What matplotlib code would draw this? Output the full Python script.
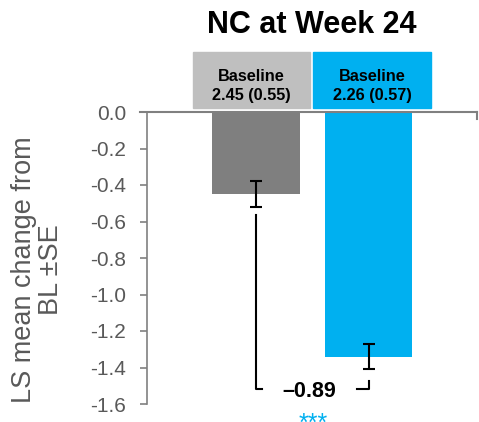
import numpy as np
import matplotlib.pyplot as plt
from matplotlib.patches import Rectangle

plt.rcParams['font.family'] = ['Liberation Sans', 'DejaVu Sans']

groups = ['Placebo', 'Active']
ls_mean = [-0.45, -1.34]
se = [0.07, 0.07]
baseline_text = ['Baseline\n2.45 (0.55)', 'Baseline\n2.26 (0.57)']
bar_colors = ['#7F7F7F', '#00B0F0']
box_colors = ['#BFBFBF', '#00B0F0']
diff_label = '\u20130.89'
yticks = [0.0, -0.2, -0.4, -0.6, -0.8, -1.0, -1.2, -1.4, -1.6]

fig = plt.figure(figsize=(4.79, 4.22), dpi=100)
W, H = 479, 422
ax = fig.add_axes([147 / W, 1 - 404 / H, 330 / W, 292 / H])

x = np.arange(len(groups))
ax.bar(x, ls_mean, width=0.78, color=bar_colors, zorder=2)
ax.errorbar(x, ls_mean, yerr=se, fmt='none', ecolor='black',
            elinewidth=1.5, capsize=4.5, capthick=1.5, zorder=3)

ax.set_xlim(-0.969, 1.964)
ax.set_ylim(-1.6, 0.0)
ax.set_yticks(yticks)
ax.set_yticklabels(['%.1f' % t for t in yticks], fontsize=15, color='#595959')
ax.set_xticks([])
ax.tick_params(axis='y', direction='out', length=5, width=1.2, color='#808080', pad=10)

for s in ['top', 'right', 'bottom']:
    ax.spines[s].set_visible(False)
ax.spines['left'].set_color('#808080')
ax.spines['left'].set_linewidth(1.2)

# zero line with end tick
ax.plot([-1.03, 1.964], [0, 0], color='#808080', lw=1.5, clip_on=False, zorder=4)
ax.plot([1.964, 1.964], [0, -0.04], color='#808080', lw=1.5, clip_on=False, zorder=4)

fig.text(38 / W, 1 - 270 / H, 'LS mean change from\nBL \u00b1SE', rotation=90,
         ha='center', va='center', fontsize=19.5, color='#595959', linespacing=1.05)

# difference bracket
ax.plot([0, 0, 0.053], [-0.565, -1.518, -1.518], color='black', lw=1.5, zorder=3)
ax.plot([0.9, 1.0, 1.0], [-1.518, -1.518, -1.474], color='black', lw=1.5, zorder=3)
ax.text(0.47, -1.53, diff_label, ha='center', va='center', fontsize=15.5,
        fontweight='bold', color='black')
fig.text(313 / W, -9 / H, '***', ha='center', va='baseline', fontsize=18,
         color='#00B0F0')

# baseline boxes above the bars
boxes = [(193, 310), (313, 431)]
for (x0, x1), c, t in zip(boxes, box_colors, baseline_text):
    fig.patches.append(Rectangle((x0 / W, 1 - 108 / H), (x1 - x0) / W, 56 / H,
                                 transform=fig.transFigure, color=c))
    fig.text((x0 + x1) / 2 / W, 1 - 86 / H, t, ha='center', va='center',
             fontsize=11.7, fontweight='bold', color='black', linespacing=1.3)

fig.text(312 / W, 1 - 25 / H, 'NC at Week 24', ha='center', va='center',
         fontsize=22, fontweight='bold', color='black')

fig.savefig('out.png', dpi=100)
